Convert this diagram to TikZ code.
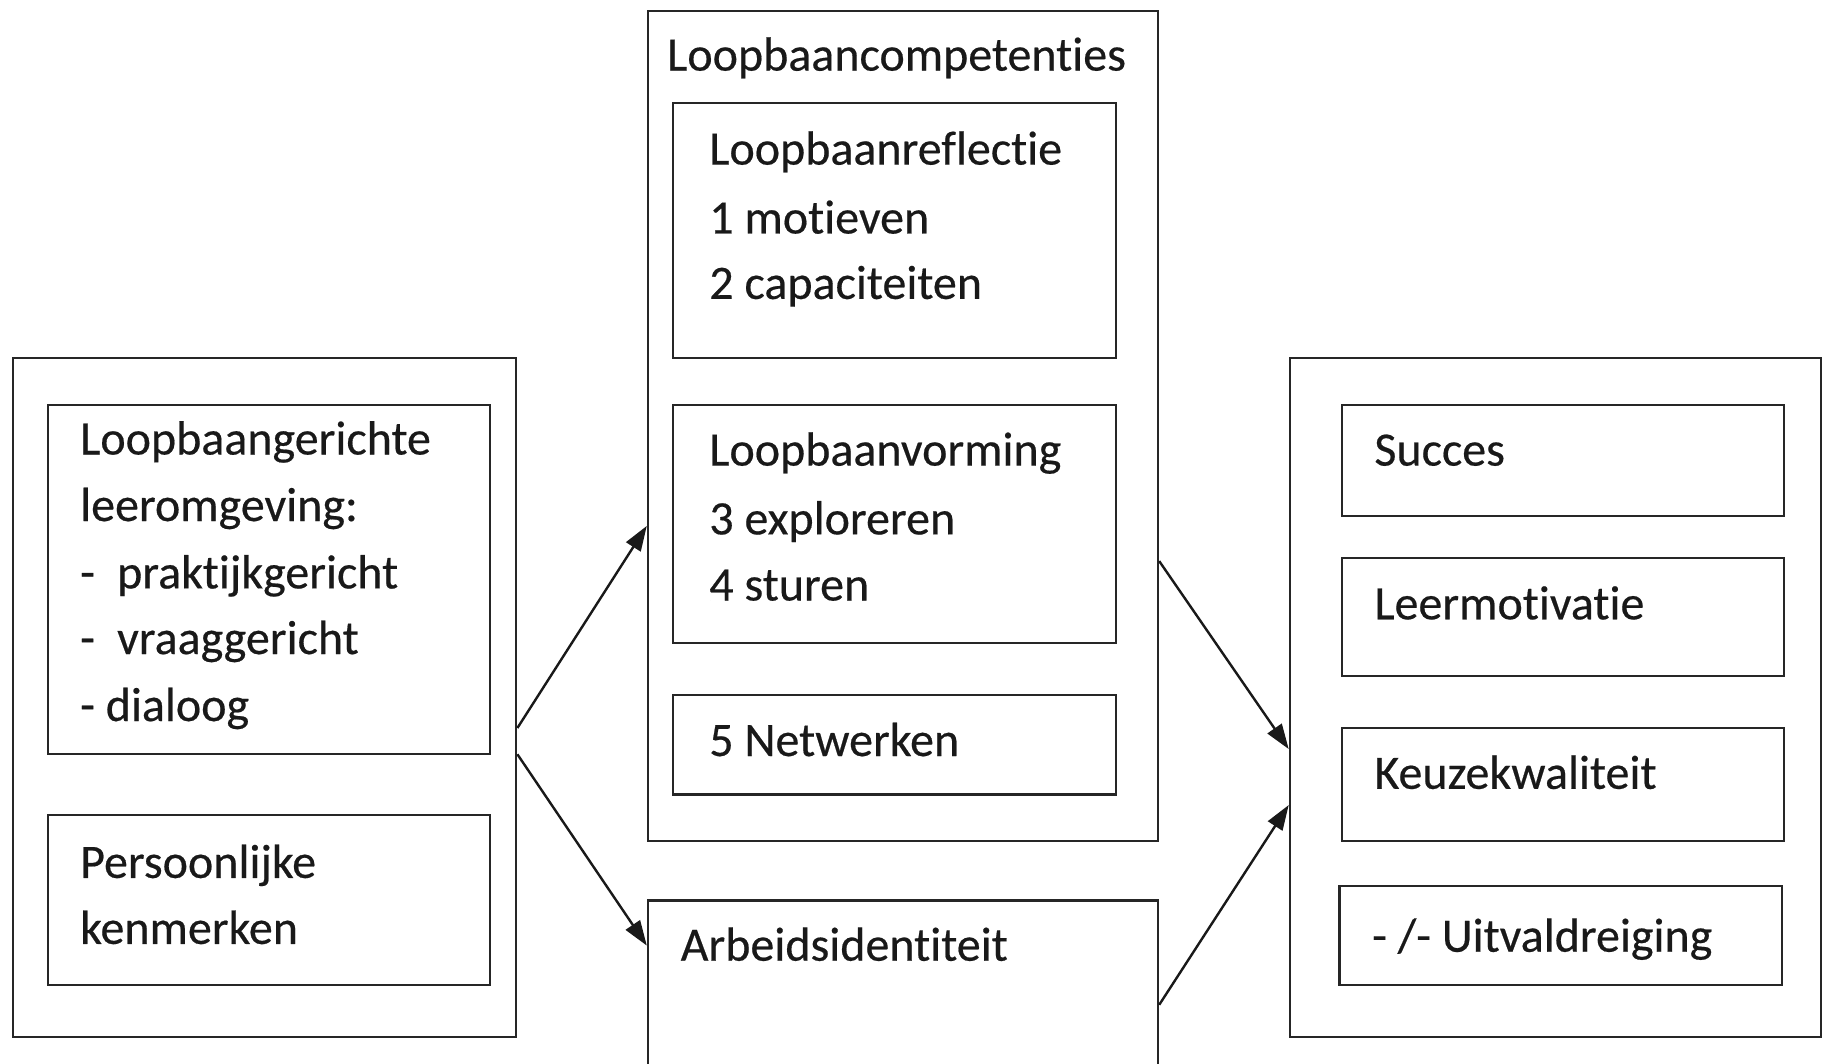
\documentclass[tikz,border=0pt]{standalone}
\usepackage{fontspec}
\setmainfont{Carlito}[Ligatures=NoCommon, UprightFeatures={FakeBold=0.4}]
\usetikzlibrary{arrows.meta}
\begin{document}
\begin{tikzpicture}[x=1pt,y=-1pt,
  box/.style={draw=black!85, line width=2.2pt, inner sep=0pt, anchor=north west},
  txt/.style={inner sep=0pt, anchor=base west, font=\fontsize{48}{58}\selectfont, text=black!90},
  arr/.style={line width=2.4pt, draw=black!90, -{Triangle[length=25pt,width=17pt]}}]
\clip (0,0) rectangle (1823,1064);
\fill[white] (0,0) rectangle (1823,1064);
% left group
\node[box, minimum width=503.4pt, minimum height=678.6pt] (left) at (11.8,357.1) {};
\node[box, minimum width=441.9pt, minimum height=349.5pt] (lre) at (47.1,403.7) {};
\node[box, minimum width=441.9pt, minimum height=169.9pt] (pk) at (47.1,814.1) {};
\node[txt] (l1) at (80,454.5) {Loopbaangerichte};
\node[txt] (l2) at (80,521) {leeromgeving:};
\node[txt] (l3) at (80,588.4) {\makebox[37pt][l]{-}praktijkgericht};
\node[txt] (l4) at (80,654) {\makebox[37pt][l]{-}vraaggericht};
\node[txt] (l5) at (80,721) {- dialoog};
\node[txt] (p1) at (80,877.9) {Persoonlijke};
\node[txt] (p2) at (80,943.9) {kenmerken};
% middle group
\node[box, minimum width=510.2pt, minimum height=830.4pt] (mid) at (646.8,9.6) {};
\node[txt] (mt) at (667,70.6) {Loopbaancompetenties};
\node[box, minimum width=442.8pt, minimum height=255.5pt] (ba) at (672,101.6) {};
\node[box, minimum width=442.8pt, minimum height=238.5pt] (bb) at (672,403.6) {};
\node[box, minimum width=442.8pt, minimum height=99.2pt] (bc) at (672,694.2) {};
\node[txt] (a1) at (709.1,164.6) {Loopbaanreflectie};
\node[txt] (a2) at (709.1,233.5) {1 motieven};
\node[txt] (a3) at (709.1,298.9) {2 capaciteiten};
\node[txt] (b1) at (709.1,465.6) {Loopbaanvorming};
\node[txt] (b2) at (709.1,534.4) {3 exploreren};
\node[txt] (b3) at (709.1,600.5) {4 sturen};
\node[txt] (c1) at (709.1,756) {5 Netwerken};
\node[box, minimum width=510.2pt, minimum height=200pt] (arb) at (646.8,899.3) {};
\node[txt] (ar) at (680.5,960.7) {Arbeidsidentiteit};
% right group
\node[box, minimum width=531.4pt, minimum height=678.7pt] (right) at (1288.7,357) {};
\node[box, minimum width=442pt, minimum height=110.8pt] (s1) at (1340.8,403.7) {};
\node[box, minimum width=442pt, minimum height=117.7pt] (s2) at (1340.8,557) {};
\node[box, minimum width=442pt, minimum height=113.1pt] (s3) at (1340.8,726.9) {};
\node[box, minimum width=442.3pt, minimum height=99.2pt] (s4) at (1338.3,884.8) {};
\node[txt] (r1) at (1374.2,465.6) {Succes};
\node[txt] (r2) at (1374.2,619.3) {Leermotivatie};
\node[txt] (r3) at (1374.2,788.8) {Keuzekwaliteit};
\node[txt] (r4) at (1372,951.7) {- /- Uitvaldreiging};
% arrows
\draw[arr] ([yshift=-30.5pt]left.east) -- ([yshift=-100pt]mid.west);
\draw[arr] ([yshift=-56.8pt]left.east) -- ([yshift=54.8pt]arb.west);
\draw[arr] ([yshift=-135.2pt]mid.east) -- ([yshift=-51.6pt]right.west);
\draw[arr] ([yshift=-4.4pt]arb.east) -- ([yshift=-107.6pt]right.west);
\end{tikzpicture}
\end{document}
